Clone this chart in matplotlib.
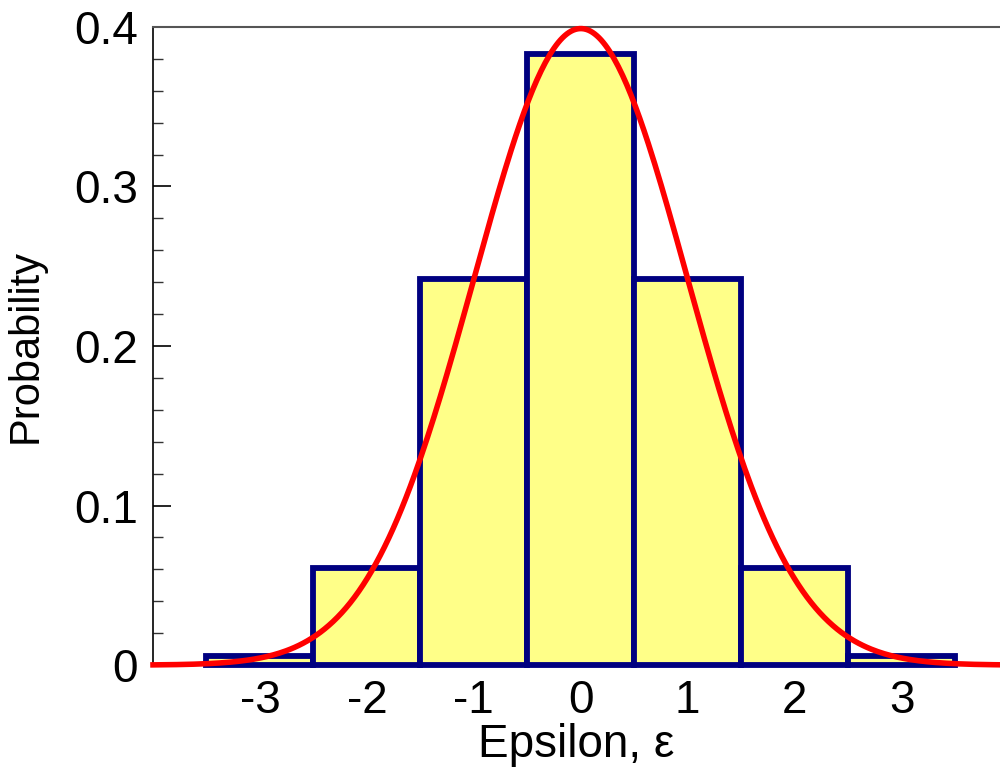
import numpy as np
import matplotlib.pyplot as plt
from matplotlib.ticker import MultipleLocator

plt.rcParams['font.family'] = ['Liberation Sans', 'DejaVu Sans']

# histogram of epsilon (bin centres and probabilities)
bin_centers = [-3, -2, -1, 0, 1, 2, 3]
bin_probs = [0.006, 0.061, 0.242, 0.383, 0.242, 0.061, 0.006]

# normal curve parameters
mu = 0.0
sigma = 1.0

fig = plt.figure(figsize=(10, 7.68), dpi=100)
ax = fig.add_axes([0.153, 0.134, 0.847, 0.831])

ax.bar(bin_centers, bin_probs, width=1.0, color='#ffff88', edgecolor='#000080',
       linewidth=4.2, zorder=2, clip_on=False)

xs = np.linspace(-4.0, 4.0, 400)
pdf = np.exp(-0.5 * ((xs - mu) / sigma) ** 2) / (sigma * np.sqrt(2 * np.pi))
ax.plot(xs, pdf, color='red', linewidth=4.0, zorder=3, clip_on=False)

ax.set_xlim(-4.0, 3.92)
ax.set_ylim(0, 0.4)

ax.set_xticks([-3, -2, -1, 0, 1, 2, 3])
ax.set_xticklabels(['-3', '-2', '-1', '0', '1', '2', '3'])
ax.set_yticks([0, 0.1, 0.2, 0.3, 0.4])
ax.set_yticklabels(['0', '0.1', '0.2', '0.3', '0.4'])
ax.yaxis.set_minor_locator(MultipleLocator(0.02))

ax.tick_params(axis='x', length=0, labelsize=33, pad=10)
ax.tick_params(axis='y', which='major', direction='in', length=13, width=1.2,
               labelsize=33, pad=11)
ax.tick_params(axis='y', which='minor', direction='in', length=7, width=1.0,
               color='#333333')

ax.spines['right'].set_visible(False)
ax.spines['bottom'].set_visible(False)
ax.spines['top'].set_color('#555555')
ax.spines['top'].set_linewidth(1.5)
ax.spines['left'].set_linewidth(1.2)

ax.set_ylabel('Probability', fontsize=30, labelpad=20)
ax.set_xlabel('Epsilon, ε', fontsize=33, labelpad=0)

plt.savefig('out.png', dpi=100)
